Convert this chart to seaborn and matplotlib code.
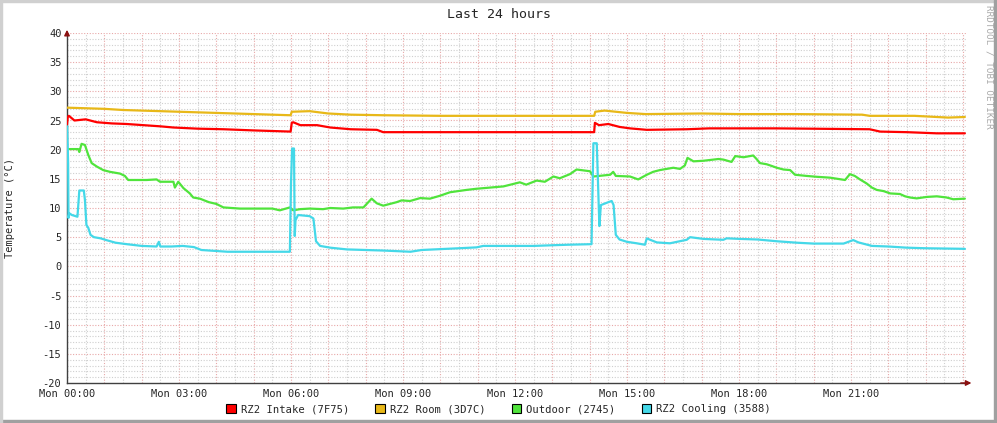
import seaborn as sns
import matplotlib.pyplot as plt
import matplotlib.patches as mpatches
import pandas as pd
import numpy as np

# hours since Mon 00:00
intake_t = [0, 0.02, 0.05, 0.2, 0.5, 0.8, 1.2, 1.6, 2.05, 2.5,
            2.85, 3.5, 4.2, 5.0, 5.99, 6.02, 6.06, 6.25, 6.7, 7.05,
            7.6, 8.3, 8.47, 10, 12, 14.12, 14.14, 14.25, 14.5, 14.8,
            15.08, 15.53, 16.6, 17.2, 19, 21.5, 21.78, 22.5, 23.3, 24.05]
intake_v = [24.3, 25.6, 25.8, 25.0, 25.2, 24.7, 24.5, 24.4, 24.2, 24.0,
            23.8, 23.6, 23.5, 23.3, 23.1, 24.6, 24.7, 24.2, 24.2, 23.8,
            23.5, 23.4, 23.0, 23.0, 23.0, 23.0, 24.6, 24.2, 24.4, 23.9,
            23.65, 23.4, 23.5, 23.65, 23.65, 23.5, 23.1, 23.0, 22.8, 22.8]

room_t = [0, 0.5, 1.0, 1.5, 2.0, 3.0, 4.0, 5.0, 5.99, 6.02,
          6.5, 7.0, 7.6, 8.5, 10, 12, 14.12, 14.15, 14.4, 15.0,
          15.5, 17, 18, 19.5, 21.3, 21.5, 22.7, 23.6, 24.05]
room_v = [27.2, 27.1, 27.0, 26.8, 26.7, 26.5, 26.3, 26.1, 25.9, 26.5,
          26.6, 26.2, 26.0, 25.9, 25.8, 25.8, 25.8, 26.5, 26.7, 26.3,
          26.1, 26.2, 26.1, 26.1, 26.0, 25.8, 25.8, 25.5, 25.6]

outdoor_t = [0, 0.08, 0.3, 0.33, 0.39, 0.48, 0.57, 0.66, 0.8, 0.97,
             1.15, 1.42, 1.55, 1.64, 2.13, 2.4, 2.49, 2.85, 2.89, 2.98,
             3.12, 3.29, 3.38, 3.56, 3.8, 4.0, 4.19, 4.63, 5.5, 5.7,
             5.97, 6.06, 6.24, 6.5, 6.86, 7.05, 7.4, 7.66, 7.94, 8.16,
             8.3, 8.47, 8.83, 8.96, 9.19, 9.46, 9.72, 9.99, 10.26, 10.7,
             10.97, 11.33, 11.69, 12.13, 12.3, 12.58, 12.8, 13.03, 13.2, 13.47,
             13.65, 14.01, 14.1, 14.55, 14.63, 14.7, 15.08, 15.3, 15.53, 15.7,
             15.88, 16.24, 16.42, 16.55, 16.62, 16.78, 17.05, 17.45, 17.58, 17.8,
             17.9, 18.12, 18.38, 18.47, 18.56, 18.74, 18.88, 19.01, 19.19, 19.37,
             19.5, 19.81, 20.08, 20.44, 20.84, 20.97, 21.1, 21.24, 21.42, 21.56,
             21.69, 21.87, 22.05, 22.31, 22.45, 22.58, 22.76, 23.03, 23.3, 23.56,
             23.74, 24.05]
outdoor_v = [20.1, 20.1, 20.1, 19.6, 21.0, 20.8, 19.1, 17.7, 17.1, 16.5,
             16.2, 15.9, 15.5, 14.8, 14.8, 14.9, 14.5, 14.5, 13.5, 14.5,
             13.4, 12.5, 11.8, 11.6, 11.0, 10.7, 10.1, 9.9, 9.9, 9.6,
             10.1, 9.6, 9.8, 9.9, 9.8, 10.0, 9.9, 10.1, 10.1, 11.6,
             10.8, 10.4, 11.0, 11.3, 11.2, 11.7, 11.6, 12.1, 12.7, 13.1,
             13.3, 13.5, 13.7, 14.4, 14.0, 14.7, 14.5, 15.4, 15.1, 15.8,
             16.6, 16.3, 15.4, 15.7, 16.2, 15.5, 15.4, 14.9, 15.7, 16.2,
             16.5, 16.9, 16.7, 17.3, 18.6, 18.0, 18.1, 18.4, 18.3, 17.9,
             18.9, 18.7, 19.0, 18.4, 17.7, 17.5, 17.2, 16.9, 16.6, 16.5,
             15.7, 15.5, 15.35, 15.2, 14.8, 15.8, 15.5, 14.9, 14.2, 13.5,
             13.1, 12.9, 12.5, 12.4, 12.0, 11.8, 11.65, 11.9, 12.0, 11.8,
             11.5, 11.6]

cooling_t = [0, 0.005, 0.03, 0.04, 0.06, 0.13, 0.28, 0.33, 0.45, 0.48,
             0.52, 0.57, 0.63, 0.72, 0.9, 1.05, 1.3, 1.6, 2.0, 2.4,
             2.46, 2.5, 2.8, 3.1, 3.4, 3.6, 4.3, 5.0, 5.97, 6.0,
             6.03, 6.08, 6.1, 6.12, 6.19, 6.5, 6.6, 6.67, 6.78, 7.05,
             7.5, 8.5, 9.2, 9.5, 10.5, 10.97, 11.15, 12.5, 12.94, 13.4,
             14.05, 14.1, 14.19, 14.26, 14.3, 14.5, 14.59, 14.64, 14.7, 14.8,
             15.0, 15.26, 15.48, 15.53, 15.62, 15.8, 16.15, 16.6, 16.69, 17.05,
             17.58, 17.67, 18.03, 18.5, 19.01, 19.55, 20.0, 20.8, 21.06, 21.2,
             21.56, 22.0, 22.49, 23.0, 24.05]
cooling_v = [23.9, 24.0, 17.7, 8.3, 9.1, 8.8, 8.5, 13.0, 13.0, 11.4,
             7.1, 6.6, 5.4, 5.0, 4.8, 4.5, 4.05, 3.8, 3.5, 3.4,
             4.2, 3.4, 3.4, 3.5, 3.3, 2.8, 2.5, 2.5, 2.5, 14.2,
             20.2, 20.2, 5.2, 7.9, 8.8, 8.6, 8.2, 4.3, 3.5, 3.2,
             2.9, 2.7, 2.5, 2.8, 3.1, 3.25, 3.5, 3.5, 3.6, 3.7,
             3.8, 21.1, 21.1, 6.9, 10.5, 11.0, 11.2, 10.5, 5.4, 4.6,
             4.2, 3.95, 3.7, 4.8, 4.55, 4.1, 3.95, 4.55, 5.0, 4.7,
             4.55, 4.8, 4.7, 4.6, 4.3, 4.05, 3.9, 3.9, 4.5, 4.1,
             3.5, 3.4, 3.2, 3.1, 3.0]

series_names = ['RZ2 Intake (7F75)', 'RZ2 Room (3D7C)', 'Outdoor (2745)', 'RZ2 Cooling (3588)']
series_colors = ['#ff0000', '#e8b818', '#50e43c', '#44d8e8']
x_tick_labels = ['Mon 00:00', 'Mon 03:00', 'Mon 06:00', 'Mon 09:00',
                 'Mon 12:00', 'Mon 15:00', 'Mon 18:00', 'Mon 21:00']

frames = []
for name, t, v in zip(series_names,
                      [intake_t, room_t, outdoor_t, cooling_t],
                      [intake_v, room_v, outdoor_v, cooling_v]):
    frames.append(pd.DataFrame({'hour': t, 'temp': v, 'series': name}))
df = pd.concat(frames, ignore_index=True)

sns.set_style('white')
plt.rcParams['font.family'] = ['DejaVu Sans Mono']
plt.rcParams['axes.unicode_minus'] = False

W, H = 997, 423
fig = plt.figure(figsize=(W / 100, H / 100), dpi=100, facecolor='white')
ax = fig.add_axes([67 / W, 1 - 383 / H, 900 / W, 350 / H])

xmax = 900 / (112 / 3)
ax.set_xlim(0, xmax)
ax.set_ylim(-20, 40)

# grid
for h in np.arange(0.5, 24.01, 1.0):
    ax.axvline(h, color='#cfcfcf', lw=0.8, ls=(0, (1, 1.5)), zorder=0)
for h in np.arange(1, 24.01, 1.0):
    ax.axvline(h, color='#e8a8a8', lw=0.8, ls=(0, (1, 1.5)), zorder=0)
for y in range(-19, 40):
    if y % 5:
        ax.axhline(y, color='#cfcfcf', lw=0.8, ls=(0, (1, 1.5)), zorder=0)
for y in range(-15, 41, 5):
    ax.axhline(y, color='#e8a8a8', lw=0.8, ls=(0, (1, 1.5)), zorder=0)

sns.lineplot(data=df, x='hour', y='temp', hue='series', palette=series_colors,
             estimator=None, sort=False, linewidth=1.6, legend=False, ax=ax, zorder=3)

ax.set_xticks(np.arange(0, 24, 3))
ax.set_xticklabels(x_tick_labels)
ax.set_yticks(range(-20, 41, 5))
ax.tick_params(axis='both', labelsize=7.5, length=2, color='#cc6666', pad=2)
ax.set_xlabel('')
ax.set_ylabel('Temperature (°C)', fontsize=7.5, labelpad=20)

for s in ['top', 'right']:
    ax.spines[s].set_visible(False)
for s in ['left', 'bottom']:
    ax.spines[s].set_color('#404040')
    ax.spines[s].set_linewidth(1.0)

# rrdtool style arrows at axis ends
ax.annotate('', xy=(1.008, 0), xytext=(0.99, 0), xycoords='axes fraction',
            arrowprops=dict(arrowstyle='-|>', color='#8b1010', lw=1, mutation_scale=8),
            annotation_clip=False)
ax.annotate('', xy=(0, 1.017), xytext=(0, 0.99), xycoords='axes fraction',
            arrowprops=dict(arrowstyle='-|>', color='#8b1010', lw=1, mutation_scale=8),
            annotation_clip=False)

fig.text(0.5, 1 - 14 / H, 'Last 24 hours', ha='center', va='center', fontsize=9.5)
fig.text(989 / W, 1 - 5 / H, 'RRDTOOL / TOBI OETIKER', rotation=270, ha='center',
         va='top', fontsize=6.7, color='#aaaaaa')

handles = [mpatches.Patch(facecolor=c, edgecolor='black', lw=0.8, label=n)
           for n, c in zip(series_names, series_colors)]
fig.legend(handles=handles, loc='center', bbox_to_anchor=(0.5, 1 - 409 / H), ncol=4,
           frameon=False, fontsize=7.6, handlelength=0.9, handleheight=0.9,
           handletextpad=0.45, columnspacing=2.5)

# frame around the canvas
fig.patches.append(mpatches.Rectangle((0, 0), 1, 3 / H, transform=fig.transFigure,
                                      color='#a0a0a0', zorder=10))
fig.patches.append(mpatches.Rectangle((0, 1 - 2 / H), 1, 2 / H, transform=fig.transFigure,
                                      color='#d0d0d0', zorder=10))
fig.patches.append(mpatches.Rectangle((0, 0), 2 / W, 1, transform=fig.transFigure,
                                      color='#d0d0d0', zorder=10))
fig.patches.append(mpatches.Rectangle((1 - 3 / W, 0), 3 / W, 1, transform=fig.transFigure,
                                      color='#a0a0a0', zorder=10))

fig.savefig('out.png', dpi=100, facecolor='white')
